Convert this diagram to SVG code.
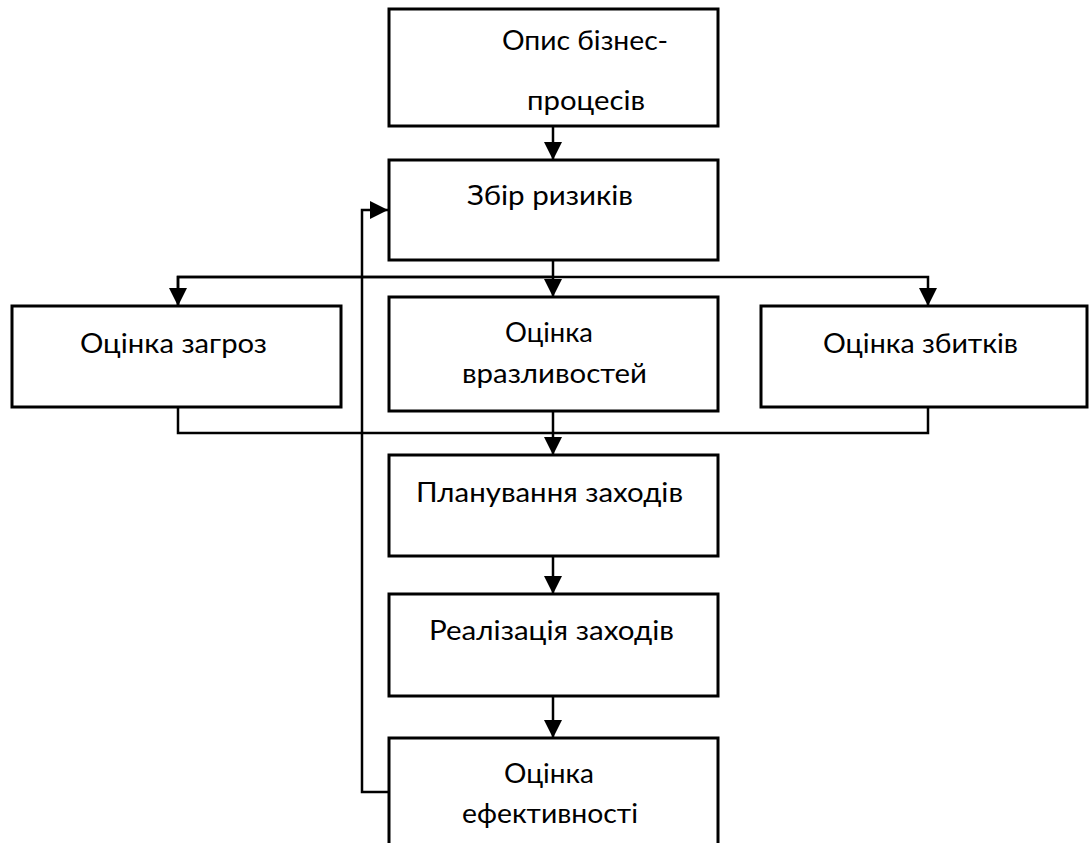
<svg xmlns="http://www.w3.org/2000/svg" width="1089" height="843" viewBox="0 0 1089 843">
<style>
.box{fill:#fff;stroke:#000;stroke-width:3}
.ln{fill:none;stroke:#000;stroke-width:2.5}
.t{font-family:Lato,"Open Sans","Liberation Sans",sans-serif;font-size:27px;fill:#000}
</style>
<defs>
<marker id="ah" markerUnits="userSpaceOnUse" markerWidth="18" markerHeight="18" viewBox="0 0 18 18" refX="18" refY="9" orient="auto">
<path d="M0,0 L18,9 L0,18 Z" fill="#000"/>
</marker>
</defs>
<g id="connectors">
<path class="ln" d="M553,126 V160" marker-end="url(#ah)"/>
<path class="ln" d="M553,260 V297" marker-end="url(#ah)"/>
<path class="ln" d="M178,306 V277 H928 V306" marker-end="url(#ah)"/>
<path class="ln" d="M553,277 H178 V306" marker-end="url(#ah)"/>
<path class="ln" d="M178,407 V433 H928 V407"/>
<path class="ln" d="M553,411 V455" marker-end="url(#ah)"/>
<path class="ln" d="M553,556 V594" marker-end="url(#ah)"/>
<path class="ln" d="M553,696 V738" marker-end="url(#ah)"/>
<path class="ln" d="M389,792 H362 V210 H388" marker-end="url(#ah)"/>
</g>
<g id="n1"><rect class="box" x="389" y="9" width="329" height="117"/>
<text class="t" x="502" y="50" textLength="166" lengthAdjust="spacingAndGlyphs">Опис бізнес-</text>
<text class="t" x="527" y="110" textLength="118" lengthAdjust="spacingAndGlyphs">процесів</text></g>
<g id="n2"><rect class="box" x="389" y="160" width="329" height="100"/>
<text class="t" x="467" y="205" textLength="166" lengthAdjust="spacingAndGlyphs">Збір ризиків</text></g>
<g id="n3"><rect class="box" x="12" y="306" width="329" height="101"/>
<text class="t" x="80" y="353" textLength="187" lengthAdjust="spacingAndGlyphs">Оцінка загроз</text></g>
<g id="n4"><rect class="box" x="389" y="297" width="329" height="114"/>
<text class="t" x="505" y="342" textLength="88" lengthAdjust="spacingAndGlyphs">Оцінка</text>
<text class="t" x="462" y="383" textLength="185" lengthAdjust="spacingAndGlyphs">вразливостей</text></g>
<g id="n5"><rect class="box" x="761" y="306" width="326" height="101"/>
<text class="t" x="823" y="353" textLength="195" lengthAdjust="spacingAndGlyphs">Оцінка збитків</text></g>
<g id="n6"><rect class="box" x="389" y="455" width="329" height="101"/>
<text class="t" x="416" y="502" textLength="267" lengthAdjust="spacingAndGlyphs">Планування заходів</text></g>
<g id="n7"><rect class="box" x="389" y="594" width="329" height="102"/>
<text class="t" x="429" y="640" textLength="245" lengthAdjust="spacingAndGlyphs">Реалізація заходів</text></g>
<g id="n8"><rect class="box" x="389" y="738" width="329" height="120"/>
<text class="t" x="504" y="783" textLength="90" lengthAdjust="spacingAndGlyphs">Оцінка</text>
<text class="t" x="462" y="823" textLength="176" lengthAdjust="spacingAndGlyphs">ефективності</text></g>
</svg>
